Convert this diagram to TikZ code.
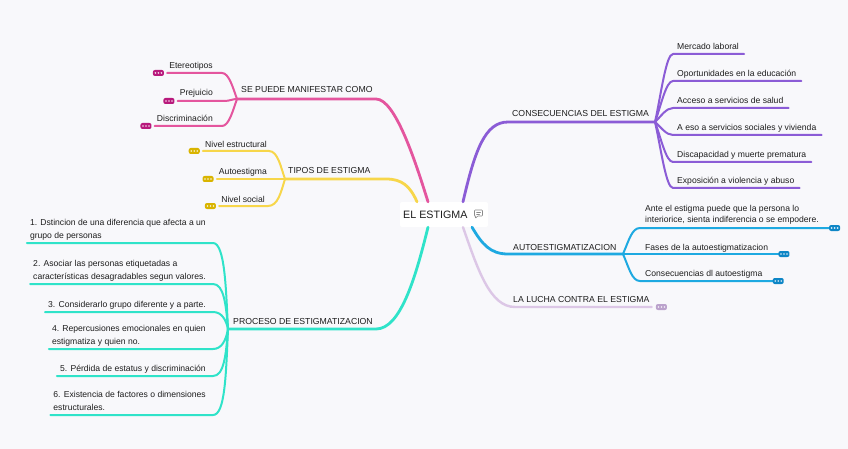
\documentclass[tikz,border=0pt]{standalone}
\usepackage{fontspec}
\setmainfont{Liberation Sans}
\usetikzlibrary{calc}
\definecolor{bgc}{HTML}{F8F8FB}
\definecolor{pinkc}{HTML}{E4559E}
\definecolor{pinkd}{HTML}{B8197C}
\definecolor{yelc}{HTML}{F7D64A}
\definecolor{yeld}{HTML}{D9B400}
\definecolor{tealc}{HTML}{2FE3C9}
\definecolor{purc}{HTML}{8B5CD6}
\definecolor{bluc}{HTML}{1EA9E1}
\definecolor{blud}{HTML}{0E86C6}
\definecolor{lavc}{HTML}{DCC7E6}
\definecolor{lavd}{HTML}{BBA2CC}
\definecolor{txtc}{HTML}{1E1E1E}
\definecolor{iconc}{HTML}{8A8A8A}
\newcommand\twolines[2]{\begin{tabular}[b]{@{}l@{}}#1\\#2\end{tabular}}
\tikzset{
  mainline/.style={line width=2.8pt},
  subline/.style={line width=2pt},
  btxt/.style={font=\fontsize{8.7}{10}\selectfont, inner sep=0pt, text=txtc},
  ctxt/.style={font=\fontsize{8.6}{12.5}\selectfont, inner sep=0pt, text=txtc},
  moredots/.style={rectangle, rounded corners=2pt, minimum width=11pt, minimum height=6pt, inner sep=0pt,
    path picture={\foreach \dx in {-3,0,3} \fill[white,opacity=0.85] ([xshift=\dx pt]path picture bounding box.center) circle (0.9pt);}}
}
\begin{document}
\begin{tikzpicture}[x=1pt,y=-1pt,line cap=round,line join=round]
\fill[bgc] (0,0) rectangle (848,449);
\useasboundingbox (0,0) rectangle (848,449);

% root
\node[fill=white, rounded corners=2pt, minimum width=88pt, minimum height=25pt, inner sep=0pt] (root) at (444,214.5) {};
\node[font=\fontsize{10.7}{12}\selectfont, anchor=base west, inner sep=0pt, text=txtc] (roott) at (403,218.8) {EL ESTIGMA};
\draw[iconc, line width=0.6pt, rounded corners=0.8pt] (474.5,210) -- (482.5,210) -- (482.5,216) -- (477.5,216) -- (475.5,218.5) -- (475.5,216) -- (474.5,216) -- cycle;
\draw[iconc, line width=0.5pt] (476.5,212) -- (480.5,212) (476.5,214) -- (479.5,214);

% ---------- pink branch
\coordinate (pkS) at ([xshift=-16pt]root.north);
\coordinate (pkA) at (376,99);
\coordinate (PJ) at (237,99);
\draw[mainline,pinkc] (pkS) .. controls (415,160) and (395,99) .. (pkA) -- (PJ);
\node[btxt, anchor=base west] (pkT) at (241,93) {SE PUEDE MANIFESTAR COMO};

\node[ctxt, anchor=base east] (pk1) at (213,68.5) {Etereotipos};
\coordinate (pk1c) at (222,73);
\node[moredots, fill=pinkd, anchor=east] (pk1d) at ([xshift=-5pt]pk1.west |- pk1c) {};
\draw[subline,pinkc] (PJ) .. controls (233,88) and (229,73) .. (pk1c) -- ([xshift=3pt]pk1d.east);

\node[ctxt, anchor=base east] (pk2) at (213,96) {Prejuicio};
\coordinate (pk2c) at (224,101);
\node[moredots, fill=pinkd, anchor=east] (pk2d) at ([xshift=-5pt]pk2.west |- pk2c) {};
\draw[subline,pinkc] (PJ) .. controls (232,99) and (230,101) .. (pk2c) -- ([xshift=3pt]pk2d.east);

\node[ctxt, anchor=base east] (pk3) at (213,121.5) {Discriminación};
\coordinate (pk3c) at (222,126);
\node[moredots, fill=pinkd, anchor=east] (pk3d) at ([xshift=-5pt]pk3.west |- pk3c) {};
\draw[subline,pinkc] (PJ) .. controls (233,110) and (229,126) .. (pk3c) -- ([xshift=3pt]pk3d.east);

% ---------- yellow branch
\coordinate (yS) at ([xshift=-27pt]root.north);
\coordinate (yA) at (386,179);
\coordinate (YJ) at (285,179);
\draw[mainline,yelc] (yS) .. controls (410,186) and (402,179) .. (yA) -- (YJ);
\node[btxt, anchor=base west] (yT) at (288,174) {TIPOS DE ESTIGMA};

\node[ctxt, anchor=base east] (y1) at (267,147.5) {Nivel estructural};
\coordinate (y1c) at (269,151);
\node[moredots, fill=yeld, anchor=east] (y1d) at ([xshift=-5pt]y1.west |- y1c) {};
\draw[subline,yelc] (YJ) .. controls (281,168) and (278,151) .. (y1c) -- ([xshift=3pt]y1d.east);

\node[ctxt, anchor=base east] (y2) at (267,175) {Autoestigma};
\coordinate (y2c) at (270,179);
\node[moredots, fill=yeld, anchor=east] (y2d) at ([xshift=-5pt]y2.west |- y2c) {};
\draw[subline,yelc] (YJ) -- (y2c) -- ([xshift=3pt]y2d.east);

\node[ctxt, anchor=base east] (y3) at (265,202.5) {Nivel social};
\coordinate (y3c) at (268,206);
\node[moredots, fill=yeld, anchor=east] (y3d) at ([xshift=-5pt]y3.west |- y3c) {};
\draw[subline,yelc] (YJ) .. controls (281,192) and (278,206) .. (y3c) -- ([xshift=3pt]y3d.east);

% ---------- teal branch
\coordinate (tS) at ([xshift=-16pt]root.south);
\coordinate (tA) at (376,329);
\coordinate (TJ) at (228,329);
\draw[mainline,tealc] (tS) .. controls (415,280) and (400,329) .. (tA) -- (TJ);
\node[btxt, anchor=base west] (tT) at (233,324.5) {PROCESO DE ESTIGMATIZACION};

\node[ctxt, anchor=base east] (t1) at (206,238) {\twolines{1. Dstincion de una diferencia que afecta a un}{grupo de personas}};
\coordinate (t1c) at (213,243);
\draw[subline,tealc] (TJ) .. controls (226,290) and (225,243) .. (t1c) -- ([xshift=-3pt]t1.west |- t1c);

\node[ctxt, anchor=base east] (t2) at (206,279) {\twolines{2. Asociar las personas etiquetadas a}{características desagradables segun valores.}};
\coordinate (t2c) at (213,284);
\draw[subline,tealc] (TJ) .. controls (226,305) and (224,284) .. (t2c) -- ([xshift=-3pt]t2.west |- t2c);

\node[ctxt, anchor=base east] (t3) at (206,307) {3. Considerarlo grupo diferente y a parte.};
\coordinate (t3c) at (213,312);
\draw[subline,tealc] (TJ) .. controls (226,320) and (222,312) .. (t3c) -- ([xshift=-3pt]t3.west |- t3c);

\node[ctxt, anchor=base east] (t4) at (206,344) {\twolines{4. Repercusiones emocionales en quien}{estigmatiza y quien no.}};
\coordinate (t4c) at (213,349);
\draw[subline,tealc] (TJ) .. controls (226,340) and (222,349) .. (t4c) -- ([xshift=-3pt]t4.west |- t4c);

\node[ctxt, anchor=base east] (t5) at (206,371) {5. Pérdida de estatus y discriminación};
\coordinate (t5c) at (213,376);
\draw[subline,tealc] (TJ) .. controls (226,355) and (224,376) .. (t5c) -- ([xshift=-3pt]t5.west |- t5c);

\node[ctxt, anchor=base east] (t6) at (206,410) {\twolines{6. Existencia de factores o dimensiones}{estructurales.}};
\coordinate (t6c) at (213,415);
\draw[subline,tealc] (TJ) .. controls (226,375) and (225,415) .. (t6c) -- ([xshift=-3pt]t6.west |- t6c);

% ---------- purple branch
\coordinate (puS) at ([xshift=19pt]root.north);
\coordinate (puA) at (508,122);
\coordinate (PuJ) at (655,122);
\draw[mainline,purc] (puS) .. controls (475,150) and (485,122) .. (puA) -- (PuJ);
\node[btxt, anchor=base west] (puT) at (512,116.5) {CONSECUENCIAS DEL ESTIGMA};

\node[ctxt, anchor=base west] (pu1) at (677,49.5) {Mercado laboral};
\coordinate (pu1c) at (673,54);
\draw[subline,purc] (PuJ) .. controls (661,94.8) and (666,54) .. (pu1c) -- ([xshift=5pt]pu1.east |- pu1c);

\node[ctxt, anchor=base west] (pu2) at (677,76.5) {Oportunidades en la educación};
\coordinate (pu2c) at (673,81);
\draw[subline,purc] (PuJ) .. controls (661,105.6) and (666,81) .. (pu2c) -- ([xshift=5pt]pu2.east |- pu2c);

\node[ctxt, anchor=base west] (pu3) at (677,103.5) {Acceso a servicios de salud};
\coordinate (pu3c) at (673,108);
\draw[subline,purc] (PuJ) .. controls (661,116.4) and (666,108) .. (pu3c) -- ([xshift=5pt]pu3.east |- pu3c);

\node[ctxt, anchor=base west] (pu4) at (677,130.5) {A eso a servicios sociales y vivienda};
\coordinate (pu4c) at (673,135);
\draw[subline,purc] (PuJ) .. controls (661,127.2) and (666,135) .. (pu4c) -- ([xshift=5pt]pu4.east |- pu4c);

\node[ctxt, anchor=base west] (pu5) at (677,157.5) {Discapacidad y muerte prematura};
\coordinate (pu5c) at (673,162);
\draw[subline,purc] (PuJ) .. controls (661,138) and (666,162) .. (pu5c) -- ([xshift=5pt]pu5.east |- pu5c);

\node[ctxt, anchor=base west] (pu6) at (677,183.5) {Exposición a violencia y abuso};
\coordinate (pu6c) at (673,188);
\draw[subline,purc] (PuJ) .. controls (661,148.4) and (666,188) .. (pu6c) -- ([xshift=5pt]pu6.east |- pu6c);

% ---------- blue branch
\coordinate (bS) at ([xshift=28pt]root.south);
\coordinate (bA) at (508,254);
\coordinate (BJ) at (623,254);
\draw[mainline,bluc] (bS) .. controls (482,244) and (490,254) .. (bA) -- (BJ);
\node[btxt, anchor=base west] (bT) at (513,250) {AUTOESTIGMATIZACION};

\node[ctxt, font=\fontsize{8.6}{11.5}\selectfont, anchor=base west] (b1) at (645,222.5) {\twolines{Ante el estigma puede que la persona lo}{interiorice, sienta indiferencia o se empodere.}};
\coordinate (b1c) at (640,228);
\coordinate (b1e) at ([xshift=10pt]b1.east |- b1c);
\draw[subline,bluc] (BJ) .. controls (629,240) and (632,228) .. (b1c) -- (b1e);
\node[moredots, fill=blud, anchor=west] (b1d) at (b1e) {};

\node[ctxt, anchor=base west] (b2) at (645,250) {Fases de la autoestigmatizacion};
\coordinate (b2c) at (640,254);
\coordinate (b2e) at ([xshift=10pt]b2.east |- b2c);
\draw[subline,bluc] (BJ) -- (b2c) -- (b2e);
\node[moredots, fill=blud, anchor=west] (b2d) at (b2e) {};

\node[ctxt, anchor=base west] (b3) at (645,276.5) {Consecuencias dl autoestigma};
\coordinate (b3c) at (640,281);
\coordinate (b3e) at ([xshift=10pt]b3.east |- b3c);
\draw[subline,bluc] (BJ) .. controls (629,268) and (632,281) .. (b3c) -- (b3e);
\node[moredots, fill=blud, anchor=west] (b3d) at (b3e) {};

% ---------- lavender branch
\coordinate (lS) at ([xshift=19pt]root.south);
\coordinate (lA) at (515,307);
\node[btxt, anchor=base west] (lT) at (513,302.5) {LA LUCHA CONTRA EL ESTIGMA};
\coordinate (lE) at ([xshift=2pt]lT.east |- lA);
\draw[mainline,lavc,line width=2.4pt] (lS) .. controls (478,270) and (490,307) .. (lA) -- (lE);
\node[moredots, fill=lavd, anchor=west] (ld) at ([xshift=6pt]lT.east |- lA) {};
\end{tikzpicture}
\end{document}
